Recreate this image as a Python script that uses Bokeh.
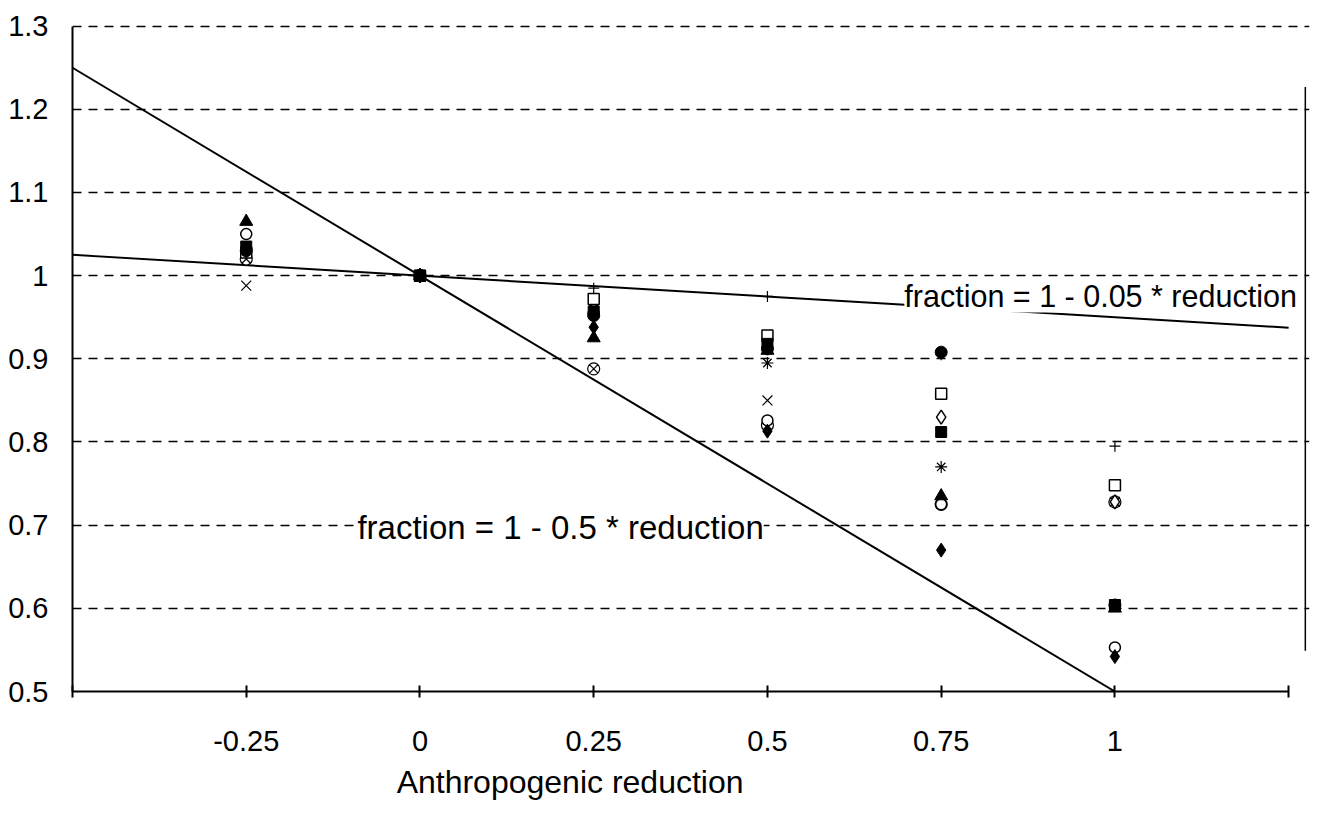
from bokeh.plotting import figure
from bokeh.models import FixedTicker, Label, LinearAxis
from bokeh.embed import file_html
from bokeh.resources import INLINE

# ---- data ----
reduction = [-0.25, 0.0, 0.25, 0.5, 0.75, 1.0]
s_plus = [1.020, 1.0, 0.985, 0.975, 0.905, 0.795]
s_open_square = [1.028, 1.0, 0.972, 0.928, 0.858, 0.748]
s_filled_square = [1.035, 1.0, 0.957, 0.918, 0.812, 0.604]
s_filled_circle = [1.030, 1.0, 0.952, 0.912, 0.908, 0.604]
s_open_diamond = [1.030, 1.0, 0.960, 0.920, 0.830, 0.728]
s_filled_diamond = [1.030, 1.0, 0.938, 0.813, 0.670, 0.542]
s_filled_triangle = [1.065, 1.0, 0.925, 0.910, 0.735, 0.600]
s_open_circle = [1.050, 1.0, 0.955, 0.826, 0.725, 0.553]
s_circle_x = [1.020, 1.0, 0.888, 0.820, 0.725, 0.728]
s_x = [0.988, 1.0, 0.960, 0.850, 0.728, 0.728]
s_asterisk = [1.022, 1.0, 0.955, 0.895, 0.770, 0.728]

steep_x = [-0.5, 1.0]
steep_y = [1.25, 0.5]
flat_x = [-0.5, 1.25]
flat_y = [1.025, 0.9375]

x_ticks = [-0.5, -0.25, 0.0, 0.25, 0.5, 0.75, 1.0, 1.25]
x_tick_labels = {-0.5: "", -0.25: "-0.25", 0.0: "0", 0.25: "0.25", 0.5: "0.5",
                 0.75: "0.75", 1.0: "1", 1.25: ""}
y_ticks = [0.5, 0.6, 0.7, 0.8, 0.9, 1.0, 1.1, 1.2, 1.3]
y_tick_labels = {0.5: "0.5", 0.6: "0.6", 0.7: "0.7", 0.8: "0.8", 0.9: "0.9",
                 1.0: "1", 1.1: "1.1", 1.2: "1.2", 1.3: "1.3"}
x_title = "Anthropogenic reduction"
x_title_pos = 0.216

frame_x = [1.274, 1.274]
frame_y = [1.227, 0.549]

FONT = "Liberation Sans"

p = figure(width=1313, height=802, output_backend="svg", toolbar_location=None,
           x_range=(-0.5, 1.28), y_range=(0.5, 1.302),
           min_border_left=72, min_border_right=4, min_border_top=24, min_border_bottom=0)
p.outline_line_color = None
p.background_fill_color = "white"

# axes
p.xaxis.ticker = FixedTicker(ticks=x_ticks)
p.xaxis.major_label_overrides = x_tick_labels
p.xaxis.bounds = (-0.5, 1.25)
p.yaxis.ticker = FixedTicker(ticks=y_ticks)
p.yaxis.major_label_overrides = y_tick_labels
p.yaxis.bounds = (0.5, 1.3)
for ax in (p.xaxis[0], p.yaxis[0]):
    ax.axis_line_color = "black"
    ax.axis_line_width = 2
    ax.major_tick_line_color = "black"
    ax.major_tick_line_width = 2
    ax.minor_tick_line_color = None
    ax.major_label_text_font = FONT
    ax.major_label_text_font_size = "29px"
    ax.major_label_text_color = "black"
p.xaxis.major_tick_in = 6
p.xaxis.major_tick_out = 6
p.yaxis.major_tick_in = 0
p.yaxis.major_tick_out = 0
p.xaxis.major_label_standoff = 33
p.yaxis.major_label_standoff = 24

# x-axis title: a second, line-less axis below whose single label is the title
title_axis = LinearAxis(ticker=FixedTicker(ticks=[x_title_pos]),
                        major_label_overrides={x_title_pos: x_title},
                        axis_line_color=None, major_tick_line_color=None,
                        minor_tick_line_color=None, major_tick_in=0, major_tick_out=0,
                        major_label_standoff=10, major_label_text_font=FONT,
                        major_label_text_font_size="32px", major_label_text_color="black")
p.add_layout(title_axis, "below")

# grid
p.xgrid.grid_line_color = None
p.ygrid.grid_line_color = "black"
p.ygrid.grid_line_dash = "9 7"
p.ygrid.grid_line_width = 1.5
p.ygrid.bounds = (-0.5, 1.25)

# reference lines
p.line(steep_x, steep_y, line_color="black", line_width=2)
p.line(flat_x, flat_y, line_color="black", line_width=2)

# series markers
sz = 11
p.scatter(reduction, s_x, marker="x", size=sz + 3, line_color="black", line_width=1.2)
p.scatter(reduction, s_asterisk, marker="asterisk", size=sz + 1, line_color="black", line_width=1.2)
p.scatter(reduction, s_plus, marker="cross", size=sz, line_color="black", line_width=1.2)
p.scatter(reduction, s_circle_x, marker="circle_x", size=sz + 1, line_color="black",
          fill_color="white", line_width=1.2)
p.scatter(reduction, s_open_circle, marker="circle", size=sz, line_color="black",
          fill_color="white", line_width=1.5)
p.scatter(reduction, s_open_diamond, marker="diamond", size=sz + 3, line_color="black",
          fill_color="white", line_width=1.5)
p.scatter(reduction, s_open_square, marker="square", size=sz, line_color="black",
          fill_color="white", line_width=1.5)
p.scatter(reduction, s_filled_triangle, marker="triangle", size=sz + 2, line_color="black",
          fill_color="black")
p.scatter(reduction, s_filled_diamond, marker="diamond", size=sz + 3, line_color="black",
          fill_color="black")
p.scatter(reduction, s_filled_circle, marker="circle", size=sz + 1, line_color="black",
          fill_color="black")
p.scatter(reduction, s_filled_square, marker="square", size=sz, line_color="black",
          fill_color="black")

# vertical border line on the right
p.line(frame_x, frame_y, line_color="black", line_width=1.5)

# annotations
lab1 = Label(x=-0.09, y=0.697, text="fraction = 1 - 0.5 * reduction",
             text_font=FONT, text_font_size="33px", text_color="black",
             text_baseline="middle", text_align="left",
             background_fill_color="white", background_fill_alpha=1.0)
lab2 = Label(x=0.697, y=0.976, text="fraction = 1 - 0.05 * reduction",
             text_font=FONT, text_font_size="30.5px", text_color="black",
             text_baseline="middle", text_align="left",
             background_fill_color="white", background_fill_alpha=1.0)
p.add_layout(lab1)
p.add_layout(lab2)

open("out.html", "w").write(file_html(p, INLINE))
